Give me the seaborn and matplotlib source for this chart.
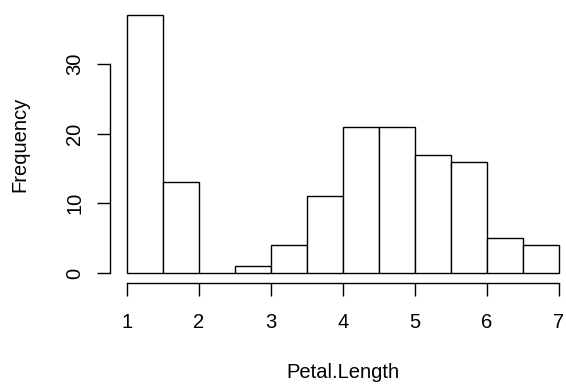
import matplotlib
matplotlib.use("Agg")
import matplotlib.pyplot as plt
import seaborn as sns
import numpy as np

# Data: iris Petal.Length histogram counts
bin_edges = [1.0, 1.5, 2.0, 2.5, 3.0, 3.5, 4.0, 4.5, 5.0, 5.5, 6.0, 6.5, 7.0]
counts = [37, 13, 0, 1, 4, 11, 21, 21, 17, 16, 5, 4]
x_ticks = [1, 2, 3, 4, 5, 6, 7]
y_ticks = [0, 10, 20, 30]

sns.set_style("white")
plt.rcParams['font.family'] = ['Liberation Sans', 'DejaVu Sans']

FS = 14.5
W, H = 566, 389
fig = plt.figure(figsize=(W / 100, H / 100), dpi=100)
left_px, right_px = 109.7, 576.0
top_px, bottom_px = 4.9, 283.3
ax = fig.add_axes([left_px / W, (H - bottom_px) / H,
                   (right_px - left_px) / W, (bottom_px - top_px) / H])

centers = [(a + b) / 2 for a, b in zip(bin_edges[:-1], bin_edges[1:])]
sns.histplot(x=centers, weights=counts, bins=bin_edges, ax=ax,
             color="white", edgecolor="black", linewidth=1.0, alpha=1.0)

ax.set_xlim(0.76, 7.24)
ax.set_ylim(-1.48, 38.48)

for s in ["top", "right"]:
    ax.spines[s].set_visible(False)
ax.spines["left"].set_bounds(0, 30)
ax.spines["bottom"].set_bounds(1, 7)
for s in ["left", "bottom"]:
    ax.spines[s].set_color("black")
    ax.spines[s].set_linewidth(1.0)

ax.set_xticks(x_ticks)
ax.set_xticklabels([str(v) for v in x_ticks])
ax.set_yticks(y_ticks)
ax.set_yticklabels([str(v) for v in y_ticks], rotation=90, va="center")
ax.tick_params(axis="both", which="major", bottom=True, left=True,
               direction="out", length=9.4, width=1.0,
               color="black", labelsize=FS, labelcolor="black")
ax.tick_params(axis="x", pad=12)
ax.tick_params(axis="y", pad=9)

ax.set_xlabel("Petal.Length", fontsize=FS, va="center", color="black")
ax.set_ylabel("Frequency", fontsize=FS, va="center", color="black")
ax.xaxis.set_label_coords((343 - left_px) / (right_px - left_px),
                          (bottom_px - 373) / (bottom_px - top_px))
ax.yaxis.set_label_coords((20 - left_px) / (right_px - left_px), 0.5)

fig.savefig("out.png", dpi=100)
